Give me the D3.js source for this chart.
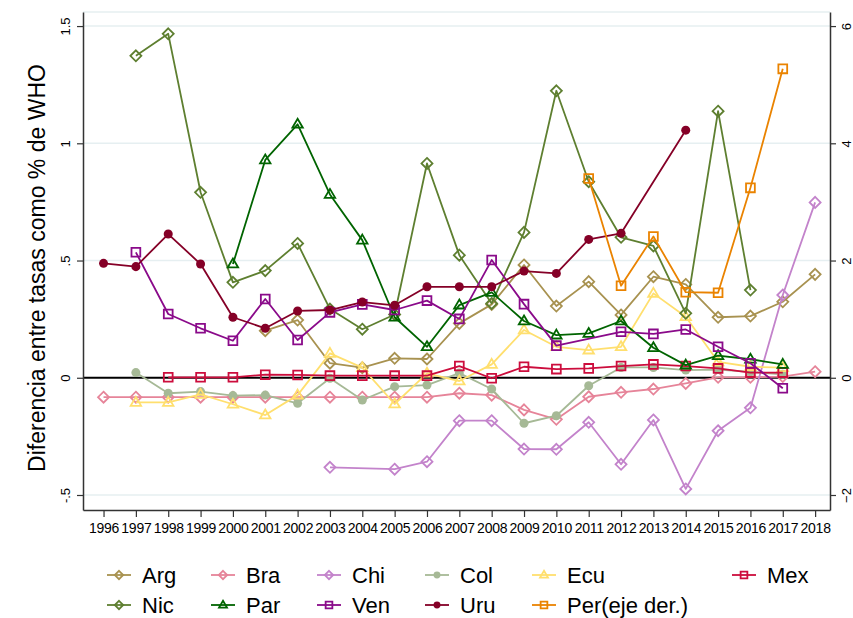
<!DOCTYPE html>
<html>
<head>
<meta charset="utf-8">
<script src="https://cdn.jsdelivr.net/npm/d3@7"></script>
<style>
  body { margin: 0; background: #fff; }
  svg { font-family: "Liberation Sans", Arial, sans-serif; }
</style>
</head>
<body>
<svg id="chart" width="853" height="618"></svg>
<script>
var years = [1996, 1997, 1998, 1999, 2000, 2001, 2002, 2003, 2004, 2005, 2006, 2007,
             2008, 2009, 2010, 2011, 2012, 2013, 2014, 2015, 2016, 2017, 2018]
var leftTicks = [-0.5, 0, 0.5, 1, 1.5]
var leftTickLabels = ['-.5', '0', '.5', '1', '1.5']
var rightTicks = [-2, 0, 2, 4, 6]

// one value per year, null = no data
var arg = [null, null, null, null, null, 0.201, 0.246, 0.062, 0.043, 0.083, 0.080, 0.232,
           0.313, 0.481, 0.306, 0.410, 0.268, 0.431, 0.398, 0.258, 0.263, 0.324, 0.441]
var bra = [-0.083, -0.083, -0.083, -0.083, -0.083, -0.083, -0.083, -0.083, -0.083, -0.083, -0.083, -0.066,
           -0.074, -0.137, -0.177, -0.081, -0.062, -0.048, -0.024, 0.002, 0.002, 0.005, 0.026]
var chi = [null, null, null, null, null, null, null, -0.382, null, -0.390, -0.358, -0.183,
           -0.183, -0.304, -0.305, -0.190, -0.369, -0.180, -0.474, -0.226, -0.128, 0.353, 0.748]
var col = [null, 0.022, -0.066, -0.059, -0.076, -0.074, -0.109, -0.002, -0.095, -0.038, -0.031, 0.020,
           -0.048, -0.194, -0.162, -0.034, 0.044, 0.044, 0.033, 0.035, 0.025, 0.015, null]
var ecu = [null, -0.105, -0.105, -0.071, -0.113, -0.159, -0.074, 0.104, 0.043, -0.112, 0.019, -0.014,
           0.057, 0.204, 0.132, 0.118, 0.132, 0.360, 0.260, 0.068, 0.047, 0.043, null]
var mex = [null, null, 0.002, 0.002, 0.002, 0.013, 0.012, 0.009, 0.009, 0.009, 0.009, 0.050,
           -0.002, 0.047, 0.037, 0.040, 0.050, 0.057, 0.050, 0.040, 0.022, 0.022, null]
var nic = [null, 1.373, 1.467, 0.791, 0.407, 0.457, 0.573, 0.293, 0.207, 0.270, 0.914, 0.523,
           0.317, 0.620, 1.224, 0.836, 0.599, 0.562, 0.275, 1.137, 0.374, null, null]
var par = [null, null, null, null, 0.485, 0.929, 1.081, 0.782, 0.587, 0.258, 0.132, 0.310,
           0.364, 0.242, 0.182, 0.189, 0.242, 0.128, 0.054, 0.094, 0.079, 0.057, null]
var ven = [null, 0.535, 0.272, 0.211, 0.158, 0.336, 0.161, 0.279, 0.313, 0.289, 0.329, 0.251,
           0.502, 0.314, 0.137, null, 0.196, 0.187, 0.206, 0.132, 0.062, -0.045, null]
var uru = [0.488, 0.474, 0.613, 0.485, 0.258, 0.211, 0.285, 0.289, 0.323, 0.309, 0.388, 0.388,
           0.388, 0.455, 0.445, 0.590, 0.616, null, 1.056, null, null, null, null]
// Peru is on the right axis
var per = [null, null, null, null, null, null, null, null, null, null, null, null,
           null, null, null, 3.40, 1.57, 2.41, 1.46, 1.45, 3.24, 5.27, null]

var series = [
  { name: 'Arg', values: arg, color: '#a89250', symbol: 'diamond' },
  { name: 'Bra', values: bra, color: '#e68499', symbol: 'diamond' },
  { name: 'Chi', values: chi, color: '#c383cb', symbol: 'diamond' },
  { name: 'Col', values: col, color: '#a6b996', symbol: 'circle' },
  { name: 'Ecu', values: ecu, color: '#ffdf6e', symbol: 'triangle' },
  { name: 'Mex', values: mex, color: '#cc0d3d', symbol: 'square' },
  { name: 'Nic', values: nic, color: '#5e7f30', symbol: 'diamond' },
  { name: 'Par', values: par, color: '#006400', symbol: 'triangle' },
  { name: 'Ven', values: ven, color: '#8a0a8a', symbol: 'square' },
  { name: 'Uru', values: uru, color: '#850027', symbol: 'circle' },
  { name: 'Per(eje der.)', values: per, color: '#ea8300', symbol: 'square', right: true }
]

var svg = d3.select('#chart')
var plotL = 83, plotR = 830, plotT = 12, plotB = 510

var x = d3.scaleLinear().domain([1995.365, 2018.46]).range([plotL, plotR])
var y = d3.scaleLinear().domain([-0.564, 1.56]).range([plotB, plotT])
var y2 = d3.scaleLinear().domain([-2.256, 6.24]).range([plotB, plotT])

var gridColor = '#e6eff1'

// grid
svg.append('line').attr('x1', plotL).attr('x2', plotR).attr('y1', plotT).attr('y2', plotT)
  .attr('stroke', gridColor).attr('stroke-width', 1.5)
svg.selectAll('.grid').data(leftTicks.filter((t) => t !== 0)).enter()
  .append('line').attr('class', 'grid')
  .attr('x1', plotL).attr('x2', plotR)
  .attr('y1', (d) => y(d)).attr('y2', (d) => y(d))
  .attr('stroke', gridColor).attr('stroke-width', 1.5)

// zero line
svg.append('line').attr('x1', plotL).attr('x2', plotR).attr('y1', y(0)).attr('y2', y(0))
  .attr('stroke', '#000').attr('stroke-width', 2)

// axes
var styleAxis = (g) => {
  g.select('.domain').attr('stroke', '#333').attr('stroke-width', 1.5)
  g.selectAll('.tick line').attr('stroke', '#333').attr('stroke-width', 1.2)
}
var leftAxis = svg.append('g').attr('transform', 'translate(' + plotL + ',0)')
  .call(d3.axisLeft(y).tickValues(leftTicks).tickFormat((d, i) => leftTickLabels[i]).tickSize(6).tickSizeOuter(0))
styleAxis(leftAxis)
leftAxis.selectAll('.tick text')
  .attr('font-size', 13).attr('fill', '#000')
  .attr('transform', 'rotate(-90)').attr('x', 0).attr('y', -13)
  .attr('dy', '0').attr('text-anchor', 'middle')

var rightAxis = svg.append('g').attr('transform', 'translate(' + plotR + ',0)')
  .call(d3.axisRight(y2).tickValues(rightTicks).tickFormat(d3.format('d')).tickSize(6).tickSizeOuter(0))
styleAxis(rightAxis)
rightAxis.selectAll('.tick text')
  .attr('font-size', 13).attr('fill', '#000')
  .attr('transform', 'rotate(-90)').attr('x', 0).attr('y', 20.5)
  .attr('dy', '0').attr('text-anchor', 'middle')

var bottomAxis = svg.append('g').attr('transform', 'translate(0,' + plotB + ')')
  .call(d3.axisBottom(x).tickValues(years).tickFormat(d3.format('d')).tickSize(7).tickSizeOuter(0))
styleAxis(bottomAxis)
bottomAxis.selectAll('.tick text').attr('font-size', 14).attr('fill', '#000')
  .attr('y', 13).attr('dy', '0.71em').attr('letter-spacing', '-0.25')

// axis title
svg.append('text')
  .attr('transform', 'translate(37,' + 268 + ') rotate(-90)')
  .attr('text-anchor', 'middle').attr('dy', '0.35em')
  .attr('font-size', 23).attr('fill', '#000')
  .text('Diferencia entre tasas como % de WHO')

var symbolPath = (symbol, size) => {
  var s = size
  if (symbol === 'diamond') return 'M0,' + (-s) + 'L' + s + ',0L0,' + s + 'L' + (-s) + ',0Z'
  if (symbol === 'square') { var h = s * 0.8; return 'M' + (-h) + ',' + (-h) + 'H' + h + 'V' + h + 'H' + (-h) + 'Z' }
  if (symbol === 'triangle') return 'M0,' + (-s) + 'L' + (s * 0.95) + ',' + (s * 0.62) + 'L' + (-s * 0.95) + ',' + (s * 0.62) + 'Z'
  return null
}

var drawMarker = (g, s, size) => {
  if (s.symbol === 'circle')
    g.append('circle').attr('r', size * 0.82).attr('fill', s.color)
  else
    g.append('path').attr('d', symbolPath(s.symbol, size))
      .attr('fill', 'none').attr('stroke', s.color).attr('stroke-width', 1.8)
}

var line = d3.line().x((d) => d.x).y((d) => d.y)

series.forEach((s) => {
  var ys = s.right ? y2 : y
  var pts = []
  s.values.forEach((v, i) => { if (v !== null) pts.push({ x: x(years[i]), y: ys(v) }) })
  svg.append('path').datum(pts).attr('d', line)
    .attr('fill', 'none').attr('stroke', s.color).attr('stroke-width', 1.8)
    .attr('stroke-linejoin', 'round')
  pts.forEach((p) => {
    var g = svg.append('g').attr('transform', 'translate(' + p.x + ',' + p.y + ')')
    drawMarker(g, s, 5.5)
  })
})

// legend
var legendCols = [107, 211, 317, 425, 532, 732]
var legendRows = [575, 605]
var legendOrder = [
  ['Arg', 0, 0], ['Bra', 1, 0], ['Chi', 2, 0], ['Col', 3, 0], ['Ecu', 4, 0], ['Mex', 5, 0],
  ['Nic', 0, 1], ['Par', 1, 1], ['Ven', 2, 1], ['Uru', 3, 1], ['Per(eje der.)', 4, 1]
]
legendOrder.forEach((e) => {
  var s = series.find((d) => d.name === e[0])
  var lx = legendCols[e[1]], ly = legendRows[e[2]]
  var g = svg.append('g').attr('transform', 'translate(' + lx + ',' + ly + ')')
  g.append('line').attr('x1', 0).attr('x2', 24).attr('y1', 0).attr('y2', 0)
    .attr('stroke', s.color).attr('stroke-width', 1.8)
  var mg = g.append('g').attr('transform', 'translate(12,0)')
  drawMarker(mg, s, 4.2)
  g.append('text').attr('x', 35).attr('y', 0).attr('dy', '0.35em')
    .attr('font-size', 22).attr('fill', '#000').text(s.name)
})
</script>
</body>
</html>
